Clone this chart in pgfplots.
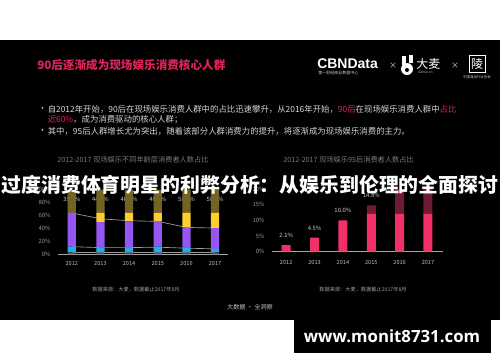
\documentclass[border=0pt]{standalone}
\usepackage{pgfplots}
\pgfplotsset{compat=1.18}
\usepackage{fontspec}
\setmainfont{Noto Sans CJK SC}
\newfontfamily\osans{Open Sans}
\newfontfamily\lsans{Liberation Sans}
\definecolor{pinkred}{HTML}{E0245A}
\definecolor{cpurple}{HTML}{9656F2}
\definecolor{ccyan}{HTML}{1EB0EA}
\definecolor{cyellow}{HTML}{FCCF2C}
\definecolor{colive}{HTML}{736424}
\definecolor{cgraybar}{HTML}{50505E}
\definecolor{cpink}{HTML}{F23068}
\definecolor{cdark}{HTML}{6E1A33}
\definecolor{txtgray}{HTML}{D4D4D4}
\definecolor{dimgray}{HTML}{7A7A7A}
\newcommand{\myfs}[1]{\fontsize{#1}{#1}\selectfont}
\tikzset{lbl/.style={text=white!80!black,font=\myfs{4.4pt}},
  bul/.style={anchor=west,inner sep=0,text=txtgray,font=\myfs{6.3pt}}}
\begin{document}
\begin{tikzpicture}[x=0.75pt,y=0.75pt]
\path[use as bounding box] (0,0) rectangle (500,362);
\fill[white] (0,0) rectangle (500,362);
\fill[black] (0,42) rectangle (500,322);
% slide title
\node[anchor=west,inner sep=0,text=pinkred,font=\myfs{8.7pt}\bfseries] at (37,297) {90后逐渐成为现场娱乐消费核心人群};
% logos
\node[anchor=west,inner sep=0,text=white,font=\lsans\myfs{10.5pt}\bfseries] at (317,298) {CBNData};
\node[anchor=west,inner sep=0,text=white!80!black,font=\myfs{3pt}] at (318,289) {第一财经商业数据中心};
\node[text=white!85!black,font=\myfs{6pt}] at (393,296) {×};
\fill[white] (407,293) circle (6);
\fill[white] (402,297) rectangle (405.5,306) ;
\fill[white] (409,299) rectangle (412.5,307);
\fill[black] (407,292) circle (2);
\node[anchor=west,inner sep=0,text=white,font=\myfs{9pt}] at (416,298) {大麦};
\node[anchor=west,inner sep=0,text=white!70!black,font=\myfs{2.5pt}] at (418,290) {damai.cn};
\node[text=white!85!black,font=\myfs{6pt}] at (455,296) {×};
\draw[white,line width=0.6pt] (469,290) rectangle (485,307);
\node[text=white,font=\myfs{9pt}] at (477,298.5) {陵};
\node[text=white!80!black,font=\myfs{2.6pt}] at (477,285) {中国演出行业协会};
% bullets
\node[bul] at (38,253) {•};
\node[bul] at (47.5,253) {自2012年开始，90后在现场娱乐消费人群中的占比迅速攀升，从2016年开始，{\color{pinkred}90后}在现场娱乐消费人群中{\color{pinkred}占比}};
\node[bul] at (47.5,242.5) {{\color{pinkred}近60\%}，成为消费驱动的核心人群；};
\node[bul] at (38,231) {•};
\node[bul] at (47.5,231) {其中，95后人群增长尤为突出，随着该部分人群消费力的提升，将逐渐成为现场娱乐消费的主力。};
% chart titles
\node[anchor=west,inner sep=0,text=dimgray,font=\myfs{5.4pt}] at (57,202) {2012-2017 现场娱乐不同年龄层消费者人数占比};
\node[anchor=west,inner sep=0,text=dimgray,font=\myfs{5.4pt}] at (283,202) {2012-2017 现场娱乐95后消费者人数占比};
% left chart connector lines
\begin{axis}[at={(43.5pt,80.8pt)},anchor=south west,scale only axis,width=127.5pt,height=48.4pt,
  xmin=-0.48,xmax=5.45,ymin=0,ymax=100,hide axis]
\addplot[gray!75,line width=0.5pt] coordinates {(0,64)(1,55)(2,52)(3,51)(4,41.6)(5,40.6)};
\addplot[gray!75,line width=0.5pt] coordinates {(0,11.8)(1,10.3)(2,10.3)(3,11)(4,9.4)(5,8.4)};
\addplot[gray!75,line width=0.5pt] coordinates {(0,3)(1,3)(2,3)(3,3)(4,3)(5,3)};
\end{axis}
% left chart bars
\begin{axis}[at={(43.5pt,80.8pt)},anchor=south west,scale only axis,width=127.5pt,height=48.4pt,
  xmin=-0.48,xmax=5.45,ymin=0,ymax=100,
  ybar stacked,bar width=6.2pt,
  axis x line*=bottom,axis y line*=left,
  x axis line style={draw=gray!70,line width=0.5pt},
  y axis line style={draw=none},
  major tick length=0pt,
  xtick={0,...,5},xticklabels={2012,2013,2014,2015,2016,2017},
  ytick={0,20,40,60,80,100},
  /pgf/number format/assume math mode=true,
  yticklabel={\pgfmathprintnumber{\tick}\%},
  xticklabel style={text=white!75!black,font=\myfs{4.2pt},yshift=-1.5pt},
  yticklabel style={text=white!60!black,font=\myfs{4.4pt},xshift=-2pt}]
\addplot[fill=cgraybar,draw=none] coordinates {(0,3)(1,3)(2,3)(3,3)(4,3)(5,3)};
\addplot[fill=ccyan,draw=none] coordinates {(0,8.8)(1,7.3)(2,7.3)(3,8.8)(4,6.4)(5,5.4)};
\addplot[fill=cpurple,draw=none] coordinates {(0,52.2)(1,39.7)(2,40.7)(3,39.2)(4,32.2)(5,32.2)};
\addplot[fill=cyellow,draw=none] coordinates {(0,0)(1,14)(2,13)(3,13)(4,22.4)(5,23.4)};
\addplot[fill=colive,draw=none] coordinates {(0,36)(1,36)(2,36)(3,36)(4,36)(5,36)};
\node[lbl] at (axis cs:0,85) {35.2\%};
\node[lbl] at (axis cs:1,85) {44.6\%};
\node[lbl] at (axis cs:2,85) {46.8\%};
\node[lbl] at (axis cs:3,85) {48.5\%};
\node[lbl] at (axis cs:4,85) {58.6\%};
\node[lbl] at (axis cs:5,85) {58.9\%};
\end{axis}
% right chart
\begin{axis}[at={(204pt,82.7pt)},anchor=south west,scale only axis,width=128.25pt,height=47pt,
  xmin=-0.5,xmax=5.53,ymin=0,ymax=20,
  ybar stacked,bar width=6.75pt,
  axis x line*=bottom,axis y line*=left,
  x axis line style={draw=gray!70,line width=0.5pt},
  y axis line style={draw=none},
  major tick length=0pt,
  xtick={0,...,5},xticklabels={2012,2013,2014,2015,2016,2017},
  ytick={0,5,10,15,20},
  /pgf/number format/assume math mode=true,
  yticklabel={\pgfmathprintnumber{\tick}\%},
  xticklabel style={text=white!75!black,font=\myfs{4.2pt},yshift=-3pt},
  yticklabel style={text=white!60!black,font=\myfs{4.4pt},xshift=-2pt}]
\addplot[fill=cpink,draw=none] coordinates {(0,2.1)(1,4.5)(2,10.0)(3,12.1)(4,12.1)(5,12.1)};
\addplot[fill=cdark,draw=none] coordinates {(0,0)(1,0)(2,0)(3,2.7)(4,8.9)(5,10.9)};
\node[lbl,anchor=south,yshift=2pt] at (axis cs:0,2.1) {2.1\%};
\node[lbl,anchor=south,yshift=2pt] at (axis cs:1,4.5) {4.5\%};
\node[lbl,anchor=south,yshift=2pt] at (axis cs:2,10.0) {10.0\%};
\node[lbl,anchor=south,yshift=2pt] at (axis cs:3,14.8) {14.8\%};
\end{axis}
% sources
\node[text=white!62!black,font=\myfs{3.9pt}] at (136,72) {数据来源：大麦，数据截止2017年8月};
\node[text=white!62!black,font=\myfs{3.9pt}] at (363,72) {数据来源：大麦，数据截止2017年8月};
\node[text=white!75!black,font=\myfs{4.6pt}] at (250,55) {大数据 · 全洞察};
% overlay title
\node[text=white,font=\myfs{14.9pt}\bfseries,inner sep=0] at (250,177) {过度消费体育明星的利弊分析：从娱乐到伦理的全面探讨};
% watermark
\fill[black] (294,9.3) rectangle (491,42);
\node[text=white,font=\osans\myfs{12.6pt}\bfseries,inner sep=0] at (392,26) {www.monit8731.com};
\end{tikzpicture}
\end{document}
